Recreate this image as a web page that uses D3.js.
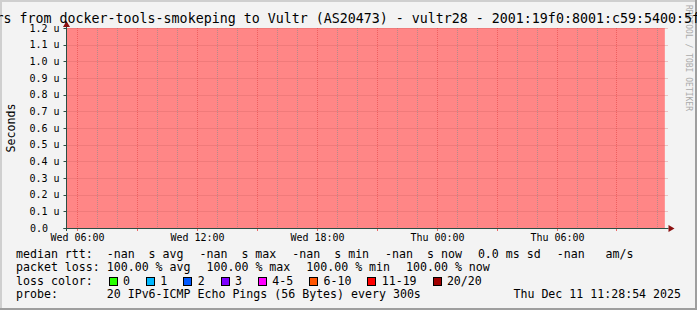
<!DOCTYPE html>
<html>
<head>
<meta charset="utf-8">
<script src="https://cdn.jsdelivr.net/npm/d3@7/dist/d3.min.js"></script>
<style>
  body { margin: 0; background: #f3f3f3; }
  svg { display: block; }
  text { font-family: "DejaVu Sans Mono", monospace; fill: #000; }
</style>
</head>
<body>
<div id="chart"></div>
<script>

// ---- data ----
var titleText = "rs from docker-tools-smokeping to Vultr (AS20473) - vultr28 - 2001:19f0:8001:c59:5400:5f";
var yLabel = "Seconds";
var watermark = "RRDTOOL / TOBI OETIKER";

var timeStart = "2025-12-10T05:30:00";
var timeEnd   = "2025-12-11T11:30:00";

var yTicks      = [0, 0.1e-6, 0.2e-6, 0.3e-6, 0.4e-6, 0.5e-6, 0.6e-6, 0.7e-6, 0.8e-6, 0.9e-6, 1.0e-6, 1.1e-6, 1.2e-6];
var yTickLabels = ["0.0", "0.1 u", "0.2 u", "0.3 u", "0.4 u", "0.5 u", "0.6 u", "0.7 u", "0.8 u", "0.9 u", "1.0 u", "1.1 u", "1.2 u"];

// periods with no reply at all (shown as the pink "unreachable" shading)
var downFrom = ["2025-12-10T05:30:00"];
var downTo   = ["2025-12-11T11:25:00"];

var lossLabels = ["0", "1", "2", "3", "4-5", "6-10", "11-19", "20/20"];
var lossColors = ["#26ff00", "#00b8ff", "#0059ff", "#7e00ff", "#ff00ff", "#ff5500", "#ff0000", "#a00000"];

var rttItems  = ["median rtt:  -nan  s avg", "-nan  s max", "-nan  s min", "-nan  s now", "0.0 ms sd", "-nan   am/s"];
var lossItems = ["packet loss: 100.00 % avg", "100.00 % max", "100.00 % min", "100.00 % now"];
var probeText = "probe:       20 IPv6-ICMP Echo Pings (56 Bytes) every 300s";
var stampText = "Thu Dec 11 11:28:54 2025";

// ---- layout ----
var W = 697, H = 310;
var plot = {left: 66.5, right: 666.5, top: 28, bottom: 228};

var parse = d3.timeParse("%Y-%m-%dT%H:%M:%S");

var svg = d3.select("#chart").append("svg")
  .attr("width", W).attr("height", H);

// background + 3d frame
svg.append("rect").attr("width", W).attr("height", H).attr("fill", "#f3f3f3");
svg.append("path").attr("d", "M0,0H" + W + "V2H2V" + H + "H0Z").attr("fill", "#cfcfcf");
svg.append("path").attr("d", "M" + W + "," + H + "H0V" + (H - 2) + "H" + (W - 2) + "V0H" + W + "Z").attr("fill", "#9e9e9e");

var x = d3.scaleTime()
  .domain([parse(timeStart), parse(timeEnd)])
  .range([plot.left, plot.right]);

var y = d3.scaleLinear()
  .domain([0, d3.max(yTicks)])
  .range([plot.bottom, plot.top]);

function px(v) { return Math.round(v) + 0.5; }

// watermark (drawn under the title)
svg.append("text")
  .attr("transform", "translate(686,5) rotate(90)")
  .style("font-size", "8px")
  .style("fill", "#aaaaaa")
  .text(watermark);

// unreachable shading, full height
var downData = downFrom.map(function(d, i) {
  return {from: parse(d), to: parse(downTo[i])};
});
svg.append("g").selectAll("rect")
  .data(downData)
  .join("rect")
    .attr("x", function(d) { return x(d.from); })
    .attr("width", function(d) { return x(d.to) - x(d.from); })
    .attr("y", y(d3.max(yTicks)))
    .attr("height", y(0) - y(d3.max(yTicks)))
    .attr("fill", "#ff8686");

var minorT = x.ticks(d3.timeHour.every(1));
var majorT = x.ticks(d3.timeHour.every(3));
var labelT = x.ticks(d3.timeHour.every(6));
var isMajor = function(t) { return majorT.some(function(m) { return +m === +t; }); };

// minor vertical grid
svg.append("g").selectAll("line")
  .data(minorT.filter(function(t) { return !isMajor(t); }))
  .join("line")
    .attr("x1", function(d) { return px(x(d)); })
    .attr("x2", function(d) { return px(x(d)); })
    .attr("y1", plot.top).attr("y2", plot.bottom + 2)
    .attr("stroke", "rgba(140,140,140,0.6)")
    .attr("stroke-dasharray", "1,1");

// major vertical grid
svg.append("g").selectAll("line")
  .data(majorT)
  .join("line")
    .attr("x1", function(d) { return px(x(d)); })
    .attr("x2", function(d) { return px(x(d)); })
    .attr("y1", plot.top).attr("y2", plot.bottom)
    .attr("stroke", "rgba(225,70,70,0.6)")
    .attr("stroke-dasharray", "1,1");
svg.append("g").selectAll("line")
  .data(majorT)
  .join("line")
    .attr("x1", function(d) { return px(x(d)); })
    .attr("x2", function(d) { return px(x(d)); })
    .attr("y1", plot.bottom).attr("y2", plot.bottom + 3)
    .attr("stroke", "rgba(235,80,80,0.85)");

// horizontal grid
svg.append("g").selectAll("line")
  .data(yTicks.slice(1))
  .join("line")
    .attr("x1", plot.left).attr("x2", plot.right + 2)
    .attr("y1", function(d) { return px(y(d)); })
    .attr("y2", function(d) { return px(y(d)); })
    .attr("stroke", "rgba(205,95,95,0.6)")
    .attr("stroke-dasharray", "1,1");

// y tick marks and labels
svg.append("g").selectAll("line")
  .data(yTicks)
  .join("line")
    .attr("x1", plot.left - 3).attr("x2", plot.left)
    .attr("y1", function(d) { return px(y(d)); })
    .attr("y2", function(d) { return px(y(d)); })
    .attr("stroke", "#2c4d43");
svg.append("g").selectAll("text")
  .data(yTicks)
  .join("text")
    .attr("x", function(d, i) { return yTickLabels[i].indexOf("u") < 0 ? 48 : 59.5; })
    .attr("y", function(d) { return y(d) + 3.8; })
    .attr("text-anchor", "end")
    .style("font-size", "10px")
    .text(function(d, i) { return yTickLabels[i]; });

// x labels
var fmt = d3.timeFormat("%a %H:%M");
svg.append("g").selectAll("text")
  .data(labelT)
  .join("text")
    .attr("x", function(d) { return px(x(d)); })
    .attr("y", 240.5)
    .attr("text-anchor", "middle")
    .style("font-size", "10px")
    .text(function(d) { return fmt(d); });

// axes with arrows
var axisCol = "#2c4d43", arrowCol = "#8b1010";
svg.append("line")
  .attr("x1", plot.left - 3).attr("x2", plot.right + 2)
  .attr("y1", px(y(0))).attr("y2", px(y(0)))
  .attr("stroke", axisCol);
svg.append("line")
  .attr("x1", plot.left).attr("x2", plot.left)
  .attr("y1", plot.bottom + 3).attr("y2", plot.top - 2)
  .attr("stroke", axisCol);
svg.append("path")
  .attr("d", "M" + (plot.right + 2) + "," + (px(y(0)) - 3.5) + "L" + (plot.right + 8) + "," + px(y(0)) + "L" + (plot.right + 2) + "," + (px(y(0)) + 3.5) + "Z")
  .attr("fill", arrowCol);
svg.append("path")
  .attr("d", "M" + (plot.left - 3.5) + "," + (plot.top - 1) + "L" + plot.left + "," + (plot.top - 7) + "L" + (plot.left + 3.5) + "," + (plot.top - 1) + "Z")
  .attr("fill", arrowCol);

// title (wider than the picture, clipped on both sides like the original)
svg.append("text")
  .attr("x", -4.5).attr("y", 22.5)
  .style("font-size", "13.3px")
  .text(titleText);

// vertical unit label
svg.append("text")
  .attr("transform", "translate(15," + ((plot.top + plot.bottom) / 2) + ") rotate(-90)")
  .attr("text-anchor", "middle")
  .style("font-size", "11.6px")
  .text(yLabel);

// ---- legend ----
var lg = {x: 16, gap: 16, fs: "11.6px", rows: [257.5, 271, 284.6, 298.2]};
var legend = svg.append("g").style("font-size", lg.fs).attr("xml:space", "preserve");

function textRow(items, yy) {
  var cursor = lg.x;
  items.forEach(function(s) {
    var t = legend.append("text").attr("x", cursor).attr("y", yy).style("white-space", "pre").text(s);
    cursor += t.node().getComputedTextLength() + lg.gap;
  });
}
textRow(rttItems, lg.rows[0]);
textRow(lossItems, lg.rows[1]);

// loss colour row
var head = legend.append("text").attr("x", lg.x).attr("y", lg.rows[2]).text("loss color:");
var cur = lg.x + head.node().getComputedTextLength() + lg.gap;
lossLabels.forEach(function(lab, i) {
  legend.append("rect")
    .attr("x", Math.round(cur) + 0.5).attr("y", lg.rows[2] - 7.1)
    .attr("width", 8).attr("height", 8)
    .attr("fill", lossColors[i]).attr("stroke", "#000");
  var t = legend.append("text").attr("x", cur + 14.3).attr("y", lg.rows[2]).text(lab);
  cur += 14.3 + t.node().getComputedTextLength() + lg.gap;
});

legend.append("text").attr("x", lg.x).attr("y", lg.rows[3]).style("white-space", "pre").text(probeText);
legend.append("text").attr("x", 681).attr("y", lg.rows[3]).attr("text-anchor", "end").text(stampText);

</script>
</body>
</html>
